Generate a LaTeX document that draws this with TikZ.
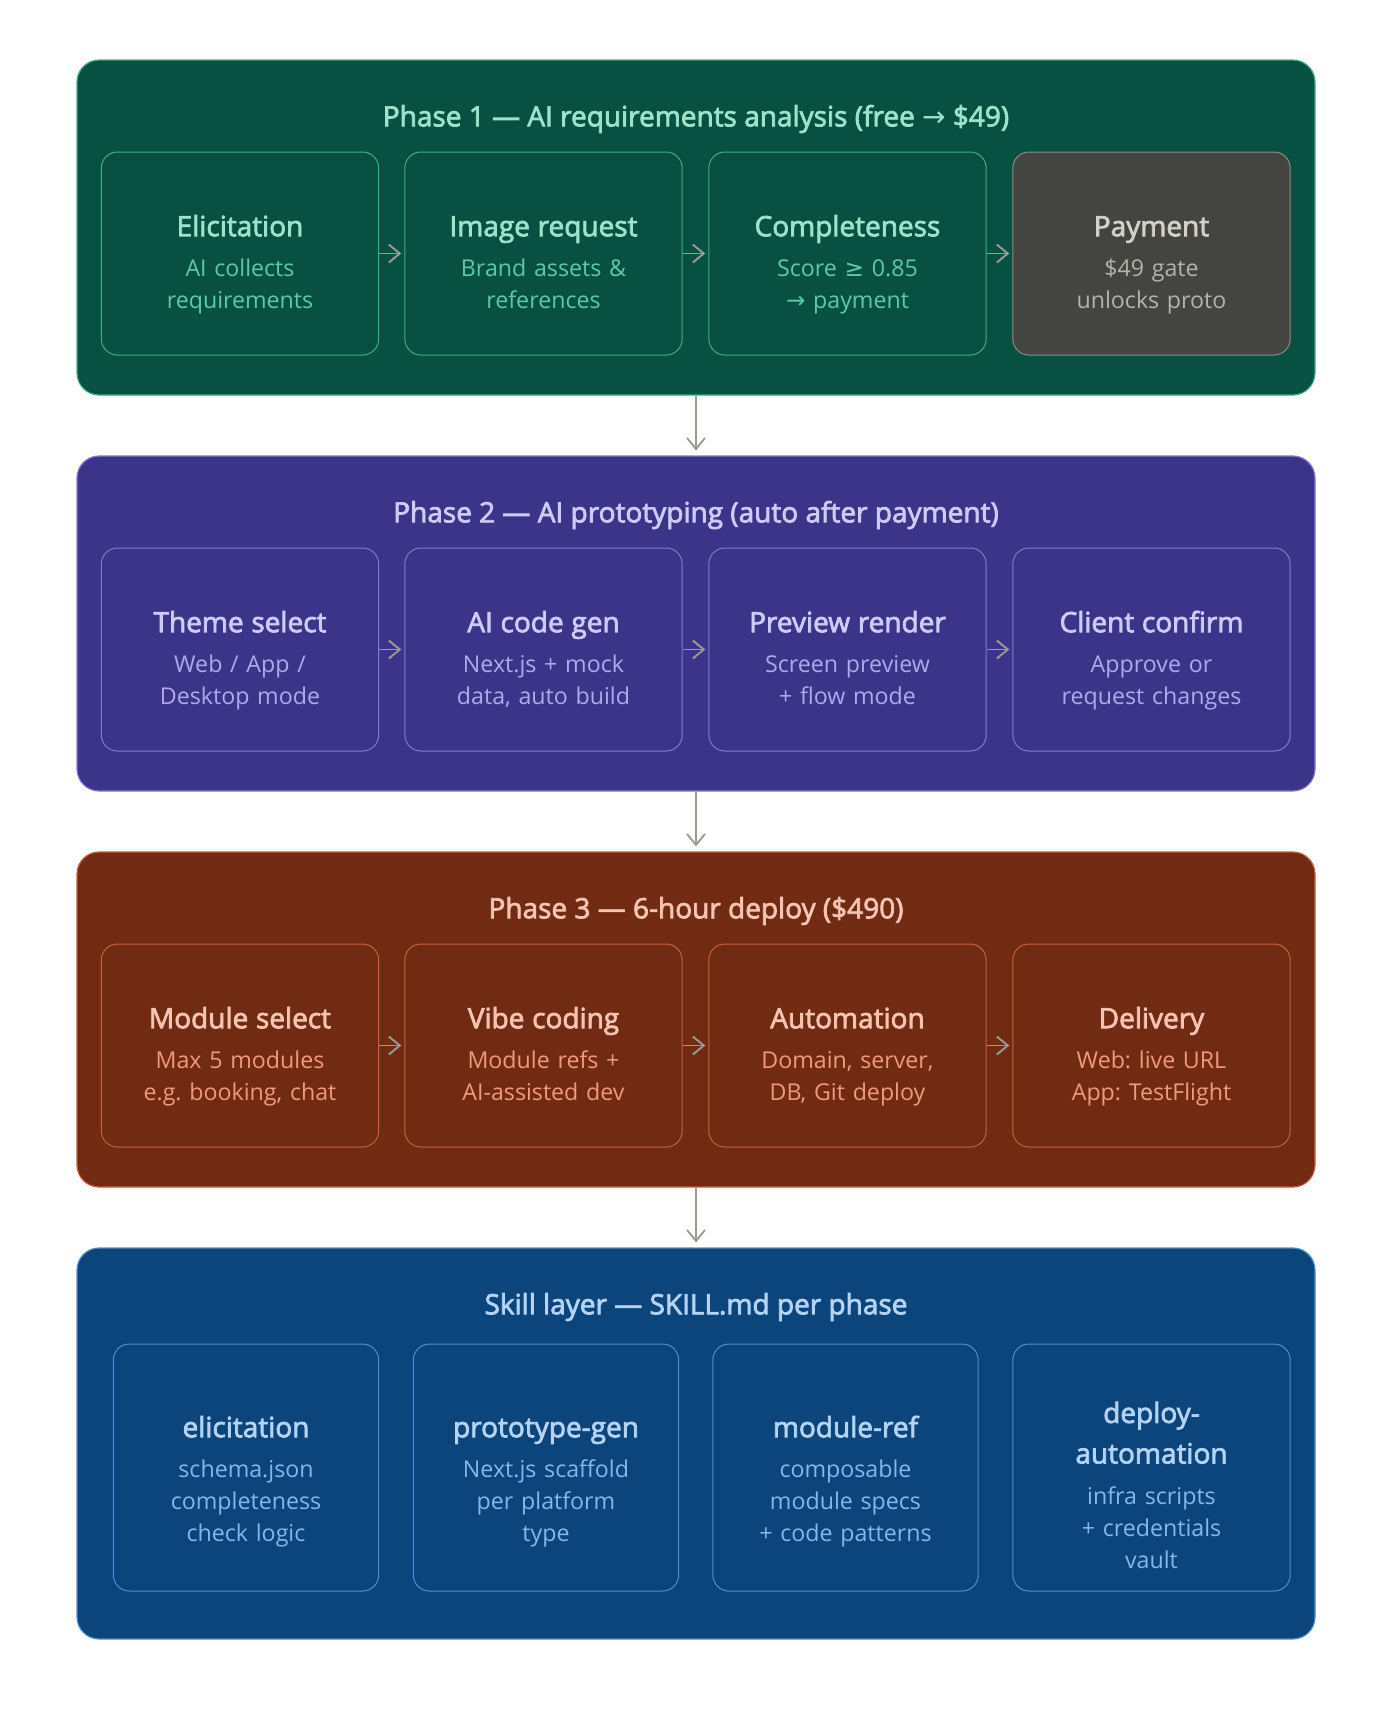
\documentclass[tikz,border=0pt]{standalone}
\usepackage{fontspec}
\setmainfont{Open Sans}
\newfontfamily\hd[FakeBold=2.6]{Open Sans}
\newfontfamily\symf{DejaVu Sans}
\usetikzlibrary{arrows.meta}
\frenchspacing

% phase colours
\definecolor{gbg}{HTML}{085041}
\definecolor{gline}{HTML}{3FAF88}
\definecolor{gtitle}{HTML}{9FE1CB}
\definecolor{gsub}{HTML}{5DCAA5}
\definecolor{ybg}{HTML}{444441}
\definecolor{yline}{HTML}{8C8A83}
\definecolor{ytitle}{HTML}{D3D1C7}
\definecolor{ysub}{HTML}{B4B2A9}
\definecolor{pbg}{HTML}{3C3489}
\definecolor{pline}{HTML}{8079D6}
\definecolor{ptitle}{HTML}{CECBF6}
\definecolor{psub}{HTML}{AFA9EC}
\definecolor{cbg}{HTML}{712B13}
\definecolor{cline}{HTML}{C9603A}
\definecolor{ctitle}{HTML}{F5C4B3}
\definecolor{csub}{HTML}{F0997B}
\definecolor{bbg}{HTML}{0C447C}
\definecolor{bline}{HTML}{4C8FD4}
\definecolor{btitle}{HTML}{B5D4F4}
\definecolor{bsub}{HTML}{85B7EB}
\definecolor{arrowgray}{HTML}{9C9A92}

% card text helpers
\newcommand{\ctitle}{\hd\fontsize{14}{17}\selectfont}
\newcommand{\tstrut}[1]{\rule{0pt}{#1}}
\newcommand{\bstrut}{\rule[-4.5pt]{0pt}{4.5pt}}

\begin{document}
\begin{tikzpicture}[x=0.5pt,y=-0.5pt,
  phase/.style={draw, rounded corners=11pt, line width=0.6pt, minimum width=619pt},
  card/.style={draw, rounded corners=8pt, line width=0.5pt, minimum width=138pt,
    minimum height=101.5pt, text width=132pt, align=center,
    font=\fontsize{11.6}{16}\selectfont},
  skill/.style={card, minimum width=132pt, minimum height=123.5pt, text width=126pt},
  heading/.style={font=\hd\fontsize{14}{17}\selectfont},
  flow/.style={draw=arrowgray, line width=0.95pt, shorten >=1.5pt,
    -{Straight Barb[length=5.5pt,width=9pt]}}]

\useasboundingbox[fill=white] (0,0) rectangle (1392,1720);

% Phase 1
\node[phase, fill=gbg, draw=gline, minimum height=167.5pt] (p1) at (696,227.5) {};
\node[heading, text=gtitle] (t1) at (696,119) {Phase 1 — AI requirements analysis (free {\symf →} \$49)};
\node[card, fill=gbg, draw=gline, text=gtitle] (elic) at (240,253.5)
  {{\ctitle\tstrut{23.5pt}Elicitation}\\[4.3pt]\color{gsub}AI collects\\requirements\bstrut};
\node[card, fill=gbg, draw=gline, text=gtitle] (img) at (543.5,253.5)
  {{\ctitle\tstrut{23.5pt}Image request}\\[4.3pt]\color{gsub}Brand assets \&\\references\bstrut};
\node[card, fill=gbg, draw=gline, text=gtitle] (comp) at (847.5,253.5)
  {{\ctitle\tstrut{23.5pt}Completeness}\\[4.3pt]\color{gsub}Score {\symf ≥} 0.85\\{\symf →} payment\bstrut};
\node[card, fill=ybg, draw=yline, text=ytitle] (pay) at (1151.5,253.5)
  {{\ctitle\tstrut{23.5pt}Payment}\\[4.3pt]\color{ysub}\$49 gate\\unlocks proto\bstrut};
\draw[flow] (elic) -- (img);
\draw[flow] (img) -- (comp);
\draw[flow] (comp) -- (pay);

% Phase 2
\node[phase, fill=pbg, draw=pline, minimum height=167.5pt] (p2) at (696,623.5) {};
\node[heading, text=ptitle] (t2) at (696,515) {Phase 2 — AI prototyping (auto after payment)};
\node[card, fill=pbg, draw=pline, text=ptitle] (theme) at (240,649.5)
  {{\ctitle\tstrut{23.5pt}Theme select}\\[4.3pt]\color{psub}Web / App /\\Desktop mode\bstrut};
\node[card, fill=pbg, draw=pline, text=ptitle] (codegen) at (543.5,649.5)
  {{\ctitle\tstrut{23.5pt}AI code gen}\\[4.3pt]\color{psub}Next.js + mock\\data, auto build\bstrut};
\node[card, fill=pbg, draw=pline, text=ptitle] (preview) at (847.5,649.5)
  {{\ctitle\tstrut{23.5pt}Preview render}\\[4.3pt]\color{psub}Screen preview\\+ flow mode\bstrut};
\node[card, fill=pbg, draw=pline, text=ptitle] (confirm) at (1151.5,649.5)
  {{\ctitle\tstrut{23.5pt}Client confirm}\\[4.3pt]\color{psub}Approve or\\request changes\bstrut};
\draw[flow] (theme) -- (codegen);
\draw[flow] (codegen) -- (preview);
\draw[flow] (preview) -- (confirm);

% Phase 3
\node[phase, fill=cbg, draw=cline, minimum height=167.5pt] (p3) at (696,1019.5) {};
\node[heading, text=ctitle] (t3) at (696,911) {Phase 3 — 6-hour deploy (\$490)};
\node[card, fill=cbg, draw=cline, text=ctitle] (modsel) at (240,1045.5)
  {{\ctitle\tstrut{23.5pt}Module select}\\[4.3pt]\color{csub}Max 5 modules\\e.g. booking, chat\bstrut};
\node[card, fill=cbg, draw=cline, text=ctitle] (vibe) at (543.5,1045.5)
  {{\ctitle\tstrut{23.5pt}Vibe coding}\\[4.3pt]\color{csub}Module refs +\\AI-assisted dev\bstrut};
\node[card, fill=cbg, draw=cline, text=ctitle] (auto) at (847.5,1045.5)
  {{\ctitle\tstrut{23.5pt}Automation}\\[4.3pt]\color{csub}Domain, server,\\DB, Git deploy\bstrut};
\node[card, fill=cbg, draw=cline, text=ctitle] (deliv) at (1151.5,1045.5)
  {{\ctitle\tstrut{23.5pt}Delivery}\\[4.3pt]\color{csub}Web: live URL\\App: TestFlight\bstrut};
\draw[flow] (modsel) -- (vibe);
\draw[flow] (vibe) -- (auto);
\draw[flow] (auto) -- (deliv);

% Skill layer
\node[phase, fill=bbg, draw=bline, minimum height=195.5pt] (p4) at (696,1443.5) {};
\node[heading, text=btitle] (t4) at (696,1307) {Skill layer — SKILL.md per phase};
\node[skill, fill=bbg, draw=bline, text=btitle] (selic) at (246,1467.5)
  {{\ctitle\tstrut{26.5pt}elicitation}\\[4.3pt]\color{bsub}schema.json\\completeness\\check logic\bstrut};
\node[skill, fill=bbg, draw=bline, text=btitle] (sproto) at (546,1467.5)
  {{\ctitle\tstrut{26.5pt}prototype-gen}\\[4.3pt]\color{bsub}Next.js scaffold\\per platform\\type\bstrut};
\node[skill, fill=bbg, draw=bline, text=btitle] (smod) at (845.5,1467.5)
  {{\ctitle\tstrut{26.5pt}module-ref}\\[4.3pt]\color{bsub}composable\\module specs\\+ code patterns\bstrut};
\node[skill, fill=bbg, draw=bline, text=btitle, minimum width=137.5pt, text width=132pt] (sdep) at (1151.5,1467.5)
  {{\ctitle\tstrut{32.5pt}deploy-}\\[4.3pt]{\ctitle automation}\\[4.3pt]\color{bsub}infra scripts\\+ credentials\\vault\bstrut};

% between phases
\draw[flow, shorten >=2.5pt] (p1) -- (p2);
\draw[flow, shorten >=2.5pt] (p2) -- (p3);
\draw[flow, shorten >=2.5pt] (p3) -- (p4);
\end{tikzpicture}
\end{document}
